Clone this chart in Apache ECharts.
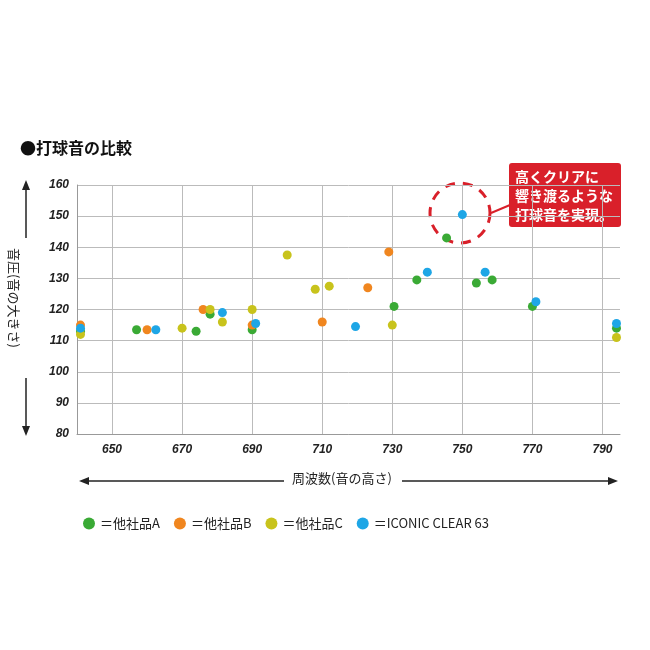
<!DOCTYPE html><html><head><meta charset="utf-8">
<script src="https://cdn.jsdelivr.net/npm/echarts@6/dist/echarts.min.js"></script>
<style>body{margin:0}#c{width:650px;height:650px}</style></head><body><div id="c"></div>
<script>
const seriesNames=['＝他社品A','＝他社品B','＝他社品C','＝ICONIC CLEAR 63'];
const colors=['#3aaa35','#f0861f','#c8c31c','#1ea6e6'];
const dataA=[[641,113],[657,113.5],[674,113],[678,118.5],[690,113.5],[730.5,121],[737,129.5],[745.5,143],[754,128.5],[758.5,129.5],[770,121],[794,114]];
const dataB=[[641,115],[660,113.5],[676,120],[690,115],[710,116],[723,127],[729,138.5]];
const dataC=[[641,112],[670,114],[678,120],[681.5,116],[690,120],[700,137.5],[708,126.5],[712,127.5],[730,115],[794,111]];
const dataD=[[641,114],[662.5,113.5],[681.5,119],[691,115.5],[719.5,114.5],[740,132],[750,150.5],[756.5,132],[771,122.5],[794,115.5]];
const xTicks=[650,670,690,710,730,750,770,790];
const ch=echarts.init(document.getElementById('c'));
const f='"Noto Sans CJK JP",sans-serif';
ch.setOption({
 animation:false,
 grid:{left:77,right:30,top:185,bottom:216},
 xAxis:{type:'value',min:640,max:795,
  axisLine:{show:true,lineStyle:{color:'#999'}},axisTick:{show:false,customValues:xTicks},
  splitLine:{show:true,lineStyle:{color:'#bbb'}},
  axisLabel:{customValues:xTicks,color:'#222',fontStyle:'italic',fontWeight:'bold',fontSize:12,fontFamily:'Arial',margin:10}},
 yAxis:{type:'value',min:80,max:160,interval:10,
  axisLine:{show:true,lineStyle:{color:'#999'}},axisTick:{show:false},
  splitLine:{lineStyle:{color:'#bbb'}},
  axisLabel:{color:'#222',fontStyle:'italic',fontWeight:'bold',fontSize:12,fontFamily:'Arial',margin:8}},
 legend:{show:true,left:78,top:512,itemGap:14,icon:'circle',itemWidth:12,itemHeight:12,
  textStyle:{fontSize:13,fontFamily:f,color:'#222'},data:seriesNames},
 series:[dataA,dataB,dataC,dataD].map((d,i)=>({type:'scatter',name:seriesNames[i],data:d,symbolSize:9,itemStyle:{color:colors[i],opacity:1}})),
 graphic:[
  {type:'text',left:20,top:140,style:{text:'●打球音の比較',font:'bold 16px '+f,fill:'#111'}},
  {type:'text',rotation:-Math.PI/2,x:20,y:248,style:{text:'音圧(音の大きさ)',font:'13px '+f,fill:'#222'}},
  {type:'line',shape:{x1:26,y1:238,x2:26,y2:185},style:{stroke:'#222',lineWidth:1.5}},
  {type:'polygon',shape:{points:[[26,180],[22,190],[30,190]]},style:{fill:'#222'}},
  {type:'line',shape:{x1:26,y1:378,x2:26,y2:430},style:{stroke:'#222',lineWidth:1.5}},
  {type:'polygon',shape:{points:[[26,436],[22,426],[30,426]]},style:{fill:'#222'}},
  {type:'text',x:292,y:472,style:{text:'周波数(音の高さ)',font:'13px '+f,fill:'#222'}},
  {type:'line',shape:{x1:85,y1:481,x2:284,y2:481},style:{stroke:'#222',lineWidth:1.5}},
  {type:'polygon',shape:{points:[[79,481],[89,477],[89,485]]},style:{fill:'#222'}},
  {type:'line',shape:{x1:402,y1:481,x2:612,y2:481},style:{stroke:'#222',lineWidth:1.5}},
  {type:'polygon',shape:{points:[[618,481],[608,477],[608,485]]},style:{fill:'#222'}},
  {type:'circle',shape:{cx:460,cy:213,r:30},style:{fill:'none',stroke:'#d9202a',lineWidth:3,lineDash:[10,8]}},
  {type:'line',shape:{x1:491,y1:213,x2:510,y2:205},style:{stroke:'#d9202a',lineWidth:2}},
  {type:'rect',shape:{x:509,y:163,width:112,height:64,r:3},style:{fill:'#d9202a'}},
  {type:'text',x:515,y:167,style:{text:'高くクリアに\n響き渡るような\n打球音を実現。',font:'bold 14px '+f,fill:'#fff',lineHeight:19}}
 ]
});
</script></body></html>
